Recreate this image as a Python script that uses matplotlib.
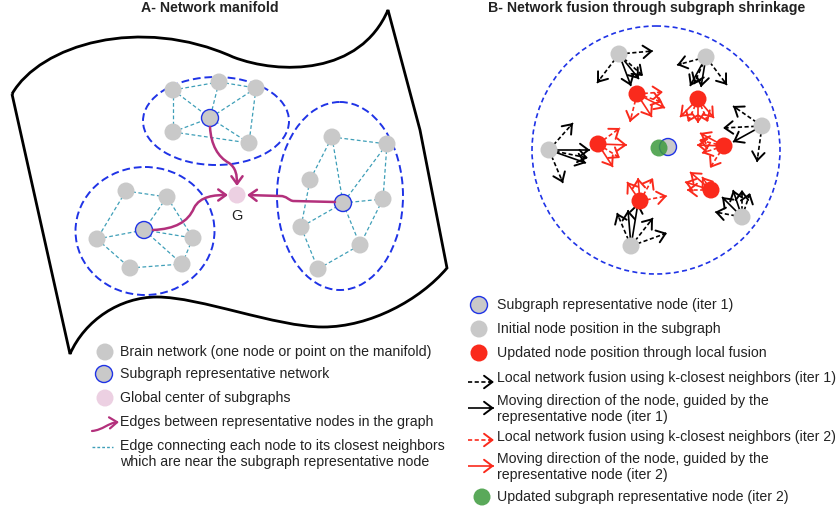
import numpy as np
import matplotlib
matplotlib.use("Agg")
import matplotlib.pyplot as plt
from matplotlib.patches import Circle, Ellipse, FancyArrowPatch, PathPatch
from matplotlib.path import Path

plt.rcParams['font.family'] = ['Liberation Sans', 'DejaVu Sans']

# %% data (pixel positions of the diagram, y grows downward)
title_a = "A- Network manifold"
title_b = "B- Network fusion through subgraph shrinkage"

# subgraph ellipses: center x, center y, width, height
ellipses = [(216, 121, 146, 88), (145, 231, 139, 128), (340, 196, 126, 188)]

nodes_top = [(173, 90), (219, 82), (256, 88), (210, 118), (173, 132), (249, 143)]
edges_top = [(0, 1), (1, 2), (0, 3), (1, 3), (2, 3), (2, 5), (4, 3), (4, 5), (3, 5), (0, 4)]
rep_top = 3

nodes_left = [(126, 191), (167, 197), (97, 239), (144, 230), (193, 238), (182, 264), (130, 268)]
edges_left = [(0, 1), (0, 2), (1, 3), (1, 4), (2, 3), (2, 6), (3, 4), (3, 5), (6, 5), (4, 5)]
rep_left = 3

nodes_right = [(332, 137), (387, 144), (310, 180), (343, 203), (383, 199), (301, 227), (360, 245), (318, 269)]
edges_right = [(0, 1), (0, 2), (0, 3), (1, 3), (1, 4), (2, 5), (3, 4), (3, 5), (3, 6), (5, 7), (7, 6), (4, 6)]
rep_right = 3

g_center = (237, 195)

# panel B
fusion_circle = (656, 150, 124)
gray_b = [(619, 54), (706, 57), (762, 126), (549, 150), (742, 217), (631, 246)]
red_b = [(637, 94), (698, 99), (598, 144), (724, 146), (640, 201), (711, 190)]
rep_b = (668, 147)
green_b = (659, 148)

# arrows leaving each node: (end point, style)
gray_arrows = {
    0: [((653, 51), 'k--'), ((597, 83), 'k--'), ((631, 86), 'k-'), ((643, 76), 'k--'), ((639, 79), 'k-')],
    1: [((677, 65), 'k--'), ((690, 86), 'k-'), ((701, 87), 'k-'), ((727, 85), 'k--'), ((694, 84), 'k--')],
    2: [((733, 106), 'k--'), ((723, 128), 'k--'), ((733, 142), 'k-'), ((757, 162), 'k--')],
    3: [((573, 123), 'k--'), ((590, 150), 'k-'), ((586, 163), 'k-'), ((563, 183), 'k--'), ((588, 158), 'k--')],
    4: [((715, 212), 'k--'), ((722, 197), 'k-'), ((733, 190), 'k-'), ((742, 190), 'k--'), ((750, 193), 'k--')],
    5: [((617, 213), 'k--'), ((638, 203), 'k-'), ((653, 218), 'k--'), ((667, 233), 'k--'), ((628, 210), 'k-')],
}
red_arrows = {
    0: [((663, 92), 'r--'), ((662, 102), 'r--'), ((665, 108), 'r-'), ((652, 117), 'r-'), ((630, 122), 'r--')],
    1: [((680, 117), 'r-'), ((688, 122), 'r--'), ((698, 123), 'r-'), ((708, 122), 'r--'), ((714, 118), 'r-')],
    2: [((620, 128), 'r--'), ((627, 145), 'r-'), ((620, 158), 'r--'), ((613, 167), 'r-')],
    3: [((700, 133), 'r-'), ((697, 145), 'r-'), ((702, 153), 'r--'), ((710, 168), 'r--'), ((699, 140), 'r--')],
    4: [((627, 182), 'r-'), ((638, 178), 'r-'), ((653, 178), 'r--'), ((667, 196), 'r--')],
    5: [((690, 172), 'r-'), ((685, 182), 'r-'), ((687, 190), 'r--'), ((702, 177), 'r--')],
}

legend_a = ["Brain network (one node or point on the manifold)",
            "Subgraph representative network",
            "Global center of subgraphs",
            "Edges between representative nodes in the graph",
            "Edge connecting each node to its closest neighbors\nwhich are near the subgraph representative node"]
legend_b = ["Subgraph representative node (iter 1)",
            "Initial node position in the subgraph",
            "Updated node position through local fusion",
            "Local network fusion using k-closest neighbors (iter 1)",
            "Moving direction of the node, guided by the\nrepresentative node (iter 1)",
            "Local network fusion using k-closest neighbors (iter 2)",
            "Moving direction of the node, guided by the\nrepresentative node (iter 2)",
            "Updated subgraph representative node (iter 2)"]

GRAY = '#c9c9c9'
BLUE = '#1f33e6'
CYAN = '#3f9fb8'
MAG = '#b3307c'
PINK = '#ecd0e2'
RED = '#fa2a1c'
GREEN = '#3d9a3d'
TXT = '#222222'
FS = 10.2


# %%
def node(ax, xy, r=8.5, fc=GRAY, ec='none', lw=1.0, alpha=1.0, z=3):
    ax.add_patch(Circle(xy, r, facecolor=fc, edgecolor=ec, lw=lw, alpha=alpha, zorder=z))


def arrow(ax, p0, p1, style, lw=1.2):
    color = 'black' if style[0] == 'k' else RED
    dashed = style.endswith('--')
    p0 = np.array(p0, float)
    p1 = np.array(p1, float)
    d = (p1 - p0) / np.hypot(*(p1 - p0))
    ax.plot([p0[0], p1[0]], [p0[1], p1[1]], color=color, lw=lw,
            ls=(0, (2.5, 1.5)) if dashed else '-', zorder=4, solid_capstyle='butt')
    ax.add_patch(FancyArrowPatch(tuple(p1 - d * 4), tuple(p1), arrowstyle='->,head_length=0.6,head_width=0.45',
                                 mutation_scale=10, color=color, lw=lw + 0.2, shrinkA=0, shrinkB=0, zorder=5))


def curve_arrow(ax, verts, codes, lw=1.8):
    ax.add_patch(FancyArrowPatch(path=Path(verts, codes), arrowstyle='->,head_length=0.55,head_width=0.4',
                                 mutation_scale=10, color=MAG, lw=lw, zorder=5))


def subgraph(ax, nodes, edges, rep):
    for i, j in edges:
        ax.plot([nodes[i][0], nodes[j][0]], [nodes[i][1], nodes[j][1]], color=CYAN, lw=0.9,
                ls=(0, (3, 2)), zorder=2)
    for k, p in enumerate(nodes):
        if k == rep:
            node(ax, p, ec=BLUE, lw=1.0)
        else:
            node(ax, p)


def legend_text(ax, x, y, t):
    if '\n' in t:
        ax.text(x, y - 8, t, ha='left', va='top', fontsize=FS, color=TXT, linespacing=1.2)
    else:
        ax.text(x, y, t, ha='left', va='center', fontsize=FS, color=TXT)


# %%
fig = plt.figure(figsize=(8.38, 5.12), dpi=100)
ax = fig.add_axes([0, 0, 1, 1])
ax.set_xlim(0, 838)
ax.set_ylim(512, 0)
ax.set_aspect('equal')
ax.axis('off')

# manifold sheet
M, C, L = Path.MOVETO, Path.CURVE4, Path.LINETO
sheet_v = [(12, 94), (40, 45), (140, 15), (233, 57), (280, 75), (360, 75), (388, 10),
           (420, 130), (447, 268),
           (420, 300), (370, 327), (323, 327), (276, 327), (200, 297), (157, 297),
           (120, 297), (85, 320), (70, 354), (12, 94)]
sheet_c = [M, C, C, C, C, C, C, L, L, C, C, C, C, C, C, C, C, C, L]
ax.add_patch(PathPatch(Path(sheet_v, sheet_c), facecolor='none', edgecolor='black', lw=2.0, zorder=1))

ax.text(210, 8, title_a, ha='center', va='center', fontsize=FS, fontweight='bold', color=TXT)
ax.text(647, 8, title_b, ha='center', va='center', fontsize=FS, fontweight='bold', color=TXT)

for cx, cy, w, h in ellipses:
    ax.add_patch(Ellipse((cx, cy), w, h, facecolor='none', edgecolor=BLUE, lw=1.4, ls=(0, (4, 2)), zorder=2))

subgraph(ax, nodes_top, edges_top, rep_top)
subgraph(ax, nodes_left, edges_left, rep_left)
subgraph(ax, nodes_right, edges_right, rep_right)

node(ax, g_center, fc=PINK)
ax.text(g_center[0], g_center[1] + 21, "G", ha='center', va='center', fontsize=10.5, color=TXT)

curve_arrow(ax, [(210, 127), (211, 145), (218, 157), (229, 163), (236, 168), (237, 175), (237, 186)], [M, C, C, C, C, C, C])
curve_arrow(ax, [(153, 230), (175, 229), (188, 222), (194, 208), (200, 196), (215, 195), (228, 195)], [M, C, C, C, C, C, C])
curve_arrow(ax, [(335, 202), (293, 201), (288, 200), (287, 196), (280, 196), (247, 195)], [M, L, C, C, C, L])

# panel B
ax.add_patch(Circle(fusion_circle[:2], fusion_circle[2], facecolor='none', edgecolor=BLUE, lw=1.2,
                    ls=(0, (3, 2)), zorder=2))
for k, pts in gray_arrows.items():
    for end, st in pts:
        arrow(ax, gray_b[k], end, st)
for k, pts in red_arrows.items():
    for end, st in pts:
        arrow(ax, red_b[k], end, st)
for p in gray_b:
    node(ax, p, z=6)
for p in red_b:
    node(ax, p, fc=RED, z=6)
node(ax, rep_b, ec=BLUE, lw=1.0, z=6)
node(ax, green_b, fc=GREEN, alpha=0.85, z=7)

# legend A
ya = [352, 374, 398, 422, 447]
node(ax, (105, ya[0]))
node(ax, (104, ya[1]), ec=BLUE)
node(ax, (105, ya[2]), fc=PINK)
curve_arrow(ax, [(92, 431), (103, 430), (108, 423), (119, 422)], [M, C, C, C], lw=1.6)
ax.plot([92, 113], [ya[4], ya[4]], color=CYAN, lw=1.0, ls=(0, (2, 1.5)))
for t, y in zip(legend_a, ya):
    legend_text(ax, 120, y, t)

# legend B
yb = [305, 329, 353, 378, 402, 437, 460, 497]
node(ax, (479, yb[0]), ec=BLUE)
node(ax, (479, yb[1]))
node(ax, (479, yb[2]), fc=RED)
arrow(ax, (468, 382), (494, 382), 'k--')
arrow(ax, (468, 408), (494, 408), 'k-')
arrow(ax, (468, 440), (494, 440), 'r--')
arrow(ax, (468, 466), (494, 466), 'r-')
node(ax, (482, yb[7]), fc=GREEN, alpha=0.85)
for t, y in zip(legend_b, yb):
    legend_text(ax, 497, y, t)

fig.savefig('out.png', dpi=100)
